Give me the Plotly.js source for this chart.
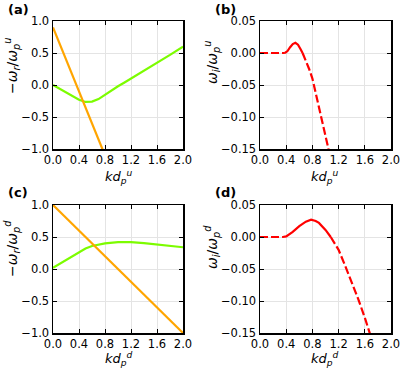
<!DOCTYPE html>
<html><head><meta charset="utf-8">
<script src="https://cdn.plot.ly/plotly-3.0.1.min.js"></script>
<style>body{margin:0;padding:0;background:#fff}#chart{width:400px;height:368px}</style>
</head><body><div id="chart"></div>
<script>
// ---- data ----
const kA_green = [0,0.1,0.2,0.3,0.4,0.5,0.6,0.7,0.8,0.9,1.0,1.1,1.2,1.4,1.6,1.8,2.0];
const wA_green = [0,-0.06,-0.12,-0.18,-0.23,-0.265,-0.26,-0.22,-0.15,-0.08,-0.02,0.04,0.1,0.22,0.35,0.47,0.6];
const kA_orange = [0,2];
const wA_orange = [0.9,-4.1];

const kB_flat = [0,0.1,0.2,0.3,0.38];
const wB_flat = [0,0,0,0,0];
const kB_bump = [0.38,0.42,0.46,0.5,0.54,0.58,0.62,0.65];
const wB_bump = [0,0.003,0.009,0.014,0.016,0.013,0.006,0];
const kB_tail = [0.65,0.7,0.75,0.8,0.85,0.9,0.95,1.0,1.05];
const wB_tail = [0,-0.012,-0.025,-0.04,-0.062,-0.083,-0.105,-0.128,-0.152];

const kC_green = [0,0.1,0.2,0.3,0.4,0.5,0.6,0.7,0.8,1.0,1.2,1.4,1.6,1.8,2.0];
const wC_green = [0.02,0.08,0.15,0.21,0.27,0.32,0.36,0.385,0.4,0.42,0.42,0.405,0.38,0.36,0.34];
const kC_orange = [0,2];
const wC_orange = [1,-1];

const kD_flat = [0,0.1,0.2,0.3,0.35];
const wD_flat = [0,0,0,0,0];
const kD_bump = [0.35,0.4,0.5,0.6,0.7,0.78,0.85,0.9,1.0,1.08];
const wD_bump = [0,0.001,0.008,0.017,0.024,0.027,0.025,0.022,0.011,0];
const kD_tail = [1.08,1.1,1.2,1.3,1.4,1.5,1.6,1.7];
const wD_tail = [0,-0.003,-0.02,-0.045,-0.07,-0.097,-0.126,-0.158];

const xTicks = [0,0.4,0.8,1.2,1.6,2.0];
const yTicksR = [-1.0,-0.5,0.0,0.5,1.0];
const yTicksI = [-0.15,-0.10,-0.05,0.00,0.05];

const GREEN = '#7CFC00', ORANGE = '#FFA500', RED = '#FF0000';

function tr(x, y, xa, ya, color, dash){
  return {x:x, y:y, xaxis:xa, yaxis:ya, type:'scatter', mode:'lines',
    line:{color:color, width:2.2, dash:dash||'solid'}, hoverinfo:'skip', showlegend:false};
}
const data = [
  tr(kA_green,wA_green,'x','y',GREEN), tr(kA_orange,wA_orange,'x','y',ORANGE),
  tr(kB_flat,wB_flat,'x2','y2',RED,'8px,3px'), tr(kB_bump,wB_bump,'x2','y2',RED), tr(kB_tail,wB_tail,'x2','y2',RED,'8px,3px'),
  tr(kC_green,wC_green,'x3','y3',GREEN), tr(kC_orange,wC_orange,'x3','y3',ORANGE),
  tr(kD_flat,wD_flat,'x4','y4',RED,'8px,3px'), tr(kD_bump,wD_bump,'x4','y4',RED), tr(kD_tail,wD_tail,'x4','y4',RED,'8px,3px')
];

const FONT = 'DejaVu Sans';
function xax(dom, anchor){
  return {domain:dom, anchor:anchor, range:[0,2], tickvals:xTicks, ticktext:xTicks.map(v=>v.toFixed(1)),
    ticks:'inside', ticklen:4, tickwidth:1, tickcolor:'#000', showline:true, linecolor:'#000', linewidth:1.5,
    mirror:'ticks', showgrid:true, gridcolor:'#e4e4e4', gridwidth:1, zeroline:false, ticklabeloverflow:'allow',
    tickfont:{family:FONT, size:11.5, color:'#000'}, fixedrange:true};
}
function yax(dom, anchor, ticks, dec, rng){
  return {domain:dom, anchor:anchor, range:rng, tickvals:ticks, ticktext:ticks.map(v=>(v<0?'\u2212':'')+Math.abs(v).toFixed(dec)),
    ticks:'inside', ticklen:4, tickwidth:1, tickcolor:'#000', showline:true, linecolor:'#000', linewidth:1.5,
    mirror:'ticks', showgrid:true, gridcolor:'#e4e4e4', gridwidth:1, zeroline:false, ticklabeloverflow:'allow',
    tickfont:{family:FONT, size:11.5, color:'#000'}, fixedrange:true};
}
const XL = [53/400, 183/400], XR = [260/400, 391/400];
const YT = [1-149/368, 1-21/368], YB = [1-333/368, 1-205/368];

function ann(text, px, py, opts){
  return Object.assign({text:text, x:px/400, y:1-py/368, xref:'paper', yref:'paper', showarrow:false,
    xanchor:'center', yanchor:'middle', font:{family:FONT, size:14, color:'#000'}}, opts||{});
}
const yR_u = '\u2212<i>ω</i><sub><i>r</i></sub>/<i>ω</i><sub><i>p</i></sub><sup><i>u</i></sup>';
const yI_u = '<i>ω</i><sub><i>i</i></sub>/<i>ω</i><sub><i>p</i></sub><sup><i>u</i></sup>';
const yR_d = '\u2212<i>ω</i><sub><i>r</i></sub>/<i>ω</i><sub><i>p</i></sub><sup><i>d</i></sup>';
const yI_d = '<i>ω</i><sub><i>i</i></sub>/<i>ω</i><sub><i>p</i></sub><sup><i>d</i></sup>';
const x_u = '<i>kd</i><sub><i>p</i></sub><sup><i>u</i></sup>';
const x_d = '<i>kd</i><sub><i>p</i></sub><sup><i>d</i></sup>';
const XF = {family:FONT, size:13, color:'#000'};

const layout = {
  width:400, height:368, margin:{l:0,r:0,t:0,b:0}, paper_bgcolor:'#fff', plot_bgcolor:'#fff',
  showlegend:false,
  xaxis:xax(XL,'y'), yaxis:yax(YT,'x',yTicksR,1,[-1,1]),
  xaxis2:xax(XR,'y2'), yaxis2:yax(YT,'x2',yTicksI,2,[-0.15,0.05]),
  xaxis3:xax(XL,'y3'), yaxis3:yax(YB,'x3',yTicksR,1,[-1,1]),
  xaxis4:xax(XR,'y4'), yaxis4:yax(YB,'x4',yTicksI,2,[-0.15,0.05]),
  annotations:[
    ann('<b>(a)</b>',6,9,{xanchor:'left',font:{family:FONT,size:13,color:'#000'}}),
    ann('<b>(b)</b>',213,9,{xanchor:'left',font:{family:FONT,size:13,color:'#000'}}),
    ann('<b>(c)</b>',6,192,{xanchor:'left',font:{family:FONT,size:13,color:'#000'}}),
    ann('<b>(d)</b>',213,192,{xanchor:'left',font:{family:FONT,size:13,color:'#000'}}),
    ann(yR_u,12,66,{textangle:-90}), ann(yI_u,212,63,{textangle:-90}),
    ann(yR_d,12,249,{textangle:-90}), ann(yI_d,212,247,{textangle:-90}),
    ann(x_u,119,177,{font:XF}), ann(x_u,325,177,{font:XF}), ann(x_d,119,359,{font:XF}), ann(x_d,325,359,{font:XF})
  ]
};
Plotly.newPlot('chart', data, layout, {staticPlot:true, displayModeBar:false});
</script></body></html>
